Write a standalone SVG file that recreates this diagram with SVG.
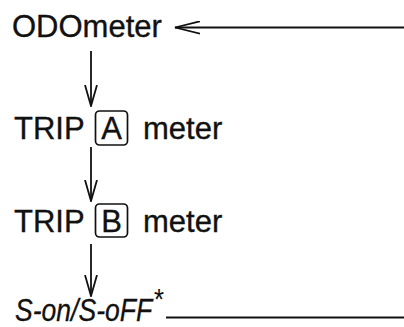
<svg xmlns="http://www.w3.org/2000/svg" width="404" height="327" viewBox="0 0 404 327">
<style>
.t{font-family:"Liberation Sans",Arial,sans-serif;font-size:31px;fill:#111;stroke:#111;stroke-width:0.35}
.seg{font-family:"Liberation Sans",Arial,sans-serif;font-size:31px;font-style:italic;fill:#111;stroke:#111;stroke-width:0.3}
.ast{font-size:30px;font-style:normal;stroke-width:0}
.ln{stroke:#111;stroke-width:1.8;fill:none}
.bx{stroke:#111;stroke-width:1.7;fill:none}
</style>
<defs>
<marker id="ah" viewBox="0 0 26 14" refX="25" refY="7" markerWidth="26" markerHeight="14" markerUnits="userSpaceOnUse" orient="auto">
<path d="M0,0.8 L25,7 L0,13.2" fill="none" stroke="#111" stroke-width="1.8"/>
</marker>
<marker id="ahv" viewBox="0 0 22 14" refX="21" refY="7" markerWidth="22" markerHeight="14" markerUnits="userSpaceOnUse" orient="auto">
<path d="M0,1 L21,7 L0,13" fill="none" stroke="#111" stroke-width="1.8"/>
</marker>
</defs>
<g id="connectors">
<line class="ln" x1="404" y1="27.5" x2="175" y2="27.5" marker-end="url(#ah)"/>
<line class="ln" x1="91" y1="51" x2="91" y2="106" marker-end="url(#ahv)"/>
<line class="ln" x1="91" y1="147" x2="91" y2="201" marker-end="url(#ahv)"/>
<line class="ln" x1="91" y1="244" x2="91" y2="296" marker-end="url(#ahv)"/>
<line class="ln" x1="166" y1="317.5" x2="404" y2="317.5"/>
</g>
<g id="odometer">
<text class="t" x="12" y="37">ODOmeter</text>
</g>
<g id="tripA">
<text class="t" x="14" y="139">TRIP</text>
<rect class="bx" x="95.5" y="111" width="32" height="34" rx="4"/>
<text class="t" x="111.5" y="139" text-anchor="middle">A</text>
<text class="t" x="143" y="139">meter</text>
</g>
<g id="tripB">
<text class="t" x="14" y="232">TRIP</text>
<rect class="bx" x="95.5" y="204" width="32" height="33" rx="4"/>
<text class="t" x="111.5" y="232" text-anchor="middle">B</text>
<text class="t" x="143" y="232">meter</text>
</g>
<g id="son-soff">
<text class="seg" transform="scale(0.857,1)" x="17.5" y="321">S-on/S-oFF<tspan class="ast" dx="2" dy="-12">*</tspan></text>
</g>
</svg>
